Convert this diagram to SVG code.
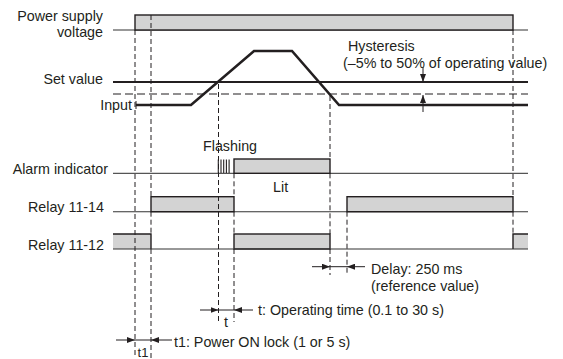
<svg xmlns="http://www.w3.org/2000/svg" width="563" height="359" viewBox="0 0 563 359">
<style>
text{font-family:"Liberation Sans",Arial,sans-serif;font-size:14.3px;fill:#231f20}
.r{text-anchor:end}
.base{stroke:#333;stroke-width:1.1;fill:none}
.bar{fill:#d3d3d3;stroke:#231f20;stroke-width:1.4}
.edge{fill:none;stroke:#231f20;stroke-width:1.4}
.fill{fill:#d3d3d3;stroke:none}
.thick{stroke:#231f20;stroke-width:2.6;fill:none;stroke-linejoin:miter}
.dash{stroke:#231f20;stroke-width:1;stroke-dasharray:5 3;fill:none}
.hdash{stroke:#231f20;stroke-width:1.1;stroke-dasharray:8 4;fill:none}
.dim{stroke:#231f20;stroke-width:1;fill:none}
</style>
<defs>
<marker id="ah" viewBox="0 0 8 6" refX="8" refY="3" markerWidth="8" markerHeight="6" markerUnits="userSpaceOnUse" orient="auto">
<path d="M0,0 L8,3 L0,6 Z" fill="#231f20"/>
</marker>
</defs>

<g id="power-supply">
<text class="r" x="103" y="21">Power supply</text>
<text class="r" x="103" y="36.5">voltage</text>
<line class="base" x1="113" y1="30" x2="528" y2="30"/>
<rect class="bar" x="135" y="15" width="378" height="15"/>
</g>

<g id="set-value">
<text class="r" x="103" y="84">Set value</text>
<line class="thick" x1="113" y1="82" x2="528" y2="82" style="stroke-width:2.2"/>
<line class="hdash" x1="113" y1="94" x2="528" y2="94"/>
</g>

<g id="input">
<text class="r" x="132" y="110">Input</text>
<line class="dim" x1="136" y1="101" x2="136" y2="109"/>
<polyline class="thick" points="136,105 191,105 254,51 292,51 339,105 528,105"/>
</g>

<g id="hysteresis">
<text x="348" y="51">Hysteresis</text>
<text x="343" y="68">(–5% to 50% of operating value)</text>
<line class="dim" x1="423" y1="67" x2="423" y2="82" marker-end="url(#ah)"/>
<line class="dim" x1="423" y1="112" x2="423" y2="95" marker-end="url(#ah)"/>
</g>

<g id="alarm-indicator">
<text class="r" x="108" y="174">Alarm indicator</text>
<line class="base" x1="113" y1="173.3" x2="528" y2="173.3" style="stroke:#555;stroke-width:1.3"/>
<g class="dim" style="stroke-width:1.1">
<line x1="218.3" y1="159.5" x2="218.3" y2="173"/>
<line x1="221" y1="159.5" x2="221" y2="173"/>
<line x1="223.7" y1="159.5" x2="223.7" y2="173"/>
<line x1="226.4" y1="159.5" x2="226.4" y2="173"/>
<line x1="229.1" y1="159.5" x2="229.1" y2="173"/>
</g>
<rect class="bar" x="234" y="159" width="96" height="14.3"/>
<text x="203" y="151">Flashing</text>
<text x="273" y="192">Lit</text>
</g>

<g id="relay-11-14">
<text class="r" x="104" y="212">Relay 11-14</text>
<line class="base" x1="113" y1="211.7" x2="528" y2="211.7"/>
<rect class="bar" x="151" y="196.7" width="83" height="15"/>
<rect class="bar" x="347" y="196.7" width="166" height="15"/>
</g>

<g id="relay-11-12">
<text class="r" x="104" y="250">Relay 11-12</text>
<rect class="fill" x="113" y="234" width="38" height="15"/>
<polyline class="edge" points="113,234 151,234 151,249"/>
<rect class="bar" x="234" y="234" width="96" height="15"/>
<rect class="fill" x="513" y="234" width="15" height="15"/>
<polyline class="edge" points="528,234 513,234 513,249"/>
<line class="base" x1="113" y1="249" x2="528" y2="249"/>
</g>

<g id="connectors">
<line class="dash" x1="135" y1="30" x2="135" y2="358"/>
<line class="dash" x1="151" y1="15" x2="151" y2="196.7"/>
<line class="dash" x1="151" y1="211.7" x2="151" y2="234"/>
<line class="dash" x1="151" y1="249" x2="151" y2="358"/>
<line class="dash" x1="218.5" y1="84" x2="218.5" y2="322"/>
<line class="dash" x1="234" y1="173.3" x2="234" y2="196.7"/>
<line class="dash" x1="234" y1="211.7" x2="234" y2="234"/>
<line class="dash" x1="234" y1="249" x2="234" y2="322"/>
<line class="dash" x1="330" y1="96" x2="330" y2="159"/>
<line class="dash" x1="330" y1="173.3" x2="330" y2="234"/>
<line class="dash" x1="330" y1="249" x2="330" y2="275"/>
<line class="dash" x1="347" y1="211.7" x2="347" y2="275"/>
<line class="dash" x1="513" y1="30" x2="513" y2="196.7"/>
<line class="dash" x1="513" y1="211.7" x2="513" y2="234"/>
</g>

<g id="delay">
<line class="dim" x1="312" y1="266.7" x2="330" y2="266.7" marker-end="url(#ah)"/>
<line class="dim" x1="330" y1="266.7" x2="347" y2="266.7"/>
<line class="dim" x1="365" y1="266.7" x2="347" y2="266.7" marker-end="url(#ah)"/>
<text x="371" y="274">Delay: 250 ms</text>
<text x="371" y="291">(reference value)</text>
</g>

<g id="operating-time">
<line class="dim" x1="200" y1="310" x2="218.5" y2="310" marker-end="url(#ah)"/>
<line class="dim" x1="218.5" y1="310" x2="234" y2="310"/>
<line class="dim" x1="253" y1="310" x2="234" y2="310" marker-end="url(#ah)"/>
<text x="258" y="315">t: Operating time (0.1 to 30 s)</text>
<text x="226" y="327" text-anchor="middle">t</text>
</g>

<g id="power-on-lock">
<line class="dim" x1="116" y1="340" x2="135" y2="340" marker-end="url(#ah)"/>
<line class="dim" x1="135" y1="340" x2="151" y2="340"/>
<line class="dim" x1="172" y1="340" x2="151" y2="340" marker-end="url(#ah)"/>
<text x="174" y="347">t1: Power ON lock (1 or 5 s)</text>
<text x="143" y="357" text-anchor="middle" style="font-size:13px">t1</text>
</g>
</svg>
